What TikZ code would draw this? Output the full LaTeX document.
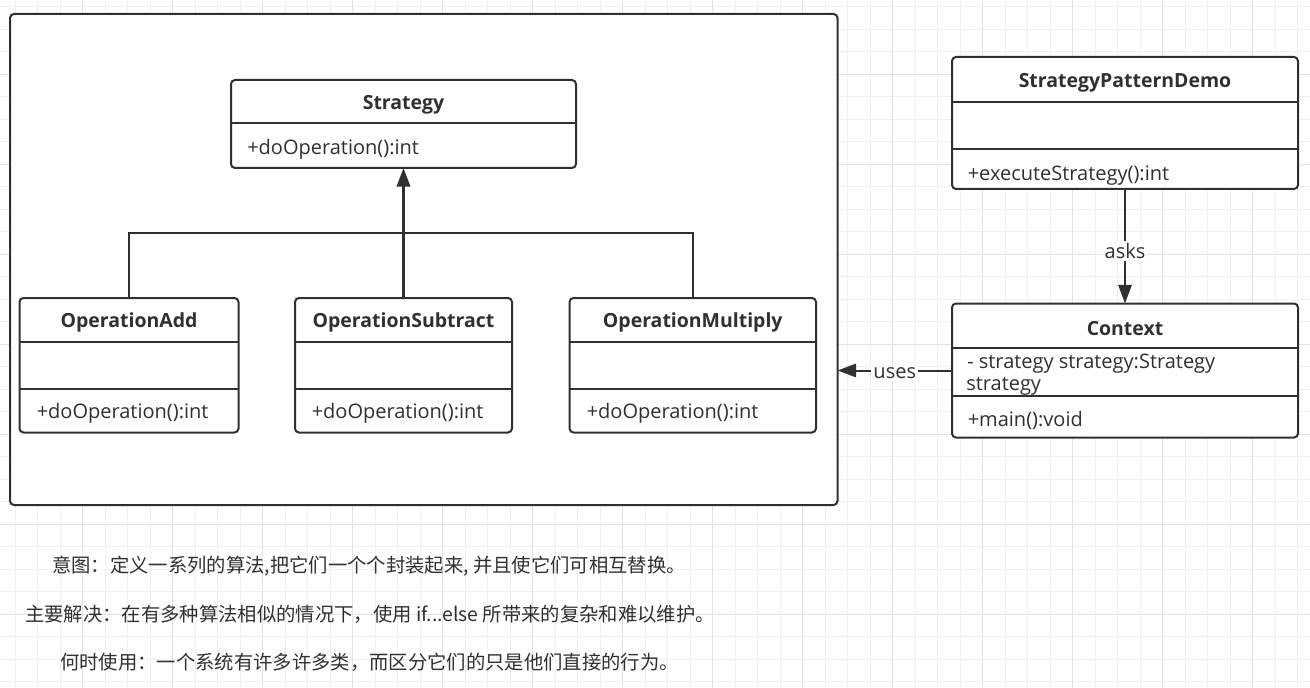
\documentclass[tikz,border=0pt]{standalone}
\usepackage{fontspec}
\setmainfont{Open Sans}
\newfontfamily\cjk{Noto Sans CJK SC}
\usetikzlibrary{arrows.meta}
\definecolor{ink}{HTML}{303030}
\definecolor{gridminor}{HTML}{F0F0F0}
\definecolor{gridmajor}{HTML}{E3E3E3}
\begin{document}
\begin{tikzpicture}[x=0.75pt,y=-0.75pt,
  box/.style 2 args={draw=ink, line width=1.5pt, rounded corners=3pt, fill=white,
    inner sep=0pt, outer sep=0pt, anchor=north west,
    minimum width=#1*0.75pt, minimum height=#2*0.75pt},
  divider/.style={draw=ink, line width=1.5pt},
  title/.style={font=\fontsize{14.6}{17}\selectfont\bfseries, text=ink, inner sep=0pt, yshift=-2pt},
  member/.style={font=\fontsize{15}{17}\selectfont, text=ink, inner sep=0pt, anchor=west, yshift=-1.8pt},
  conn/.style={draw=ink, line width=1.5pt},
  tip/.style={-{Triangle[length=14pt,width=10pt]}},
  elabel/.style={font=\fontsize{15}{17}\selectfont, text=ink, fill=white, inner sep=1.5pt},
  note/.style={font=\cjk\fontsize{14.5}{17}\selectfont, text=ink, inner sep=0pt},
  gmin/.style={draw=gridminor, line width=0.75pt},
  gmaj/.style={draw=gridmajor, line width=0.75pt}]

% background grid
\fill[white] (0,0) rectangle (1310,688);
\useasboundingbox (0,0) rectangle (1310,688);
\foreach \i in {0,...,57}{\draw[gmin] ({15.2+22.5*\i},0) -- ({15.2+22.5*\i},688);}
\foreach \i in {0,...,30}{\draw[gmin] (0,{6.8+22.5*\i}) -- (1310,{6.8+22.5*\i});}
\foreach \i in {0,...,13}{\draw[gmaj] ({82.7+90*\i},0) -- ({82.7+90*\i},688);}
\foreach \i in {0,...,6}{\draw[gmaj] (0,{74.3+90*\i}) -- (1310,{74.3+90*\i});}

% package frame
\node[box={827.5}{491}] (pkg) at (10,14) {};

% Strategy
\node[box={345}{88}] (strat) at (231,80) {};
\draw[divider] (strat.west |- 0,123.5) -- (strat.east |- 0,123.5);
\node[title] (strat-t) at (403.5,102) {Strategy};
\node[member] (strat-m) at (247,147) {+doOperation():int};

% OperationAdd
\node[box={219}{134.5}] (add) at (19.5,298) {};
\draw[divider] (add.west |- 0,342) -- (add.east |- 0,342);
\draw[divider] (add.west |- 0,388.5) -- (add.east |- 0,388.5);
\node[title] (add-t) at (129,320) {OperationAdd};
\node[member] (add-m) at (36.5,411) {+doOperation():int};

% OperationSubtract
\node[box={217}{134.5}] (sub) at (295,298) {};
\draw[divider] (sub.west |- 0,342) -- (sub.east |- 0,342);
\draw[divider] (sub.west |- 0,388.5) -- (sub.east |- 0,388.5);
\node[title] (sub-t) at (403.5,320) {OperationSubtract};
\node[member] (sub-m) at (311.5,411) {+doOperation():int};

% OperationMultiply
\node[box={246.5}{134.5}] (mul) at (569.5,298) {};
\draw[divider] (mul.west |- 0,342) -- (mul.east |- 0,342);
\draw[divider] (mul.west |- 0,388.5) -- (mul.east |- 0,388.5);
\node[title] (mul-t) at (692.75,320) {OperationMultiply};
\node[member] (mul-m) at (586.5,411) {+doOperation():int};

% generalization
\coordinate (j) at (403.5,233.3);
\draw[conn] (add.north) |- (j);
\draw[conn] (mul.north) |- (j);
\draw[conn, tip, line width=2pt] (sub.north) -- (strat.south);

% StrategyPatternDemo
\node[box={346}{132}] (spd) at (952,57) {};
\draw[divider] (spd.west |- 0,102) -- (spd.east |- 0,102);
\draw[divider] (spd.west |- 0,149) -- (spd.east |- 0,149);
\node[title] (spd-t) at (1125,80) {StrategyPatternDemo};
\node[member] (spd-m) at (967.5,173) {+executeStrategy():int};

% Context
\node[box={346}{134}] (ctx) at (952,303.5) {};
\draw[divider] (ctx.west |- 0,348) -- (ctx.east |- 0,348);
\draw[divider] (ctx.west |- 0,396) -- (ctx.east |- 0,396);
\node[title] (ctx-t) at (1125,326) {Context};
\node[member] (ctx-a1) at (967,361.5) {- strategy strategy:Strategy};
\node[member] (ctx-a2) at (966,383.5) {strategy};
\node[member] (ctx-m) at (967.5,418) {+main():void};

% associations
\draw[conn, tip] (spd.south) -- node[elabel, pos=0.53, yshift=-1pt] (asks) {asks} (ctx.north);
\draw[conn, tip] (ctx.west) -- node[elabel, pos=0.5, yshift=-2.2pt] (uses) {uses} (ctx.west -| pkg.east);

% notes
\node[note] (n1) at (369,566) {意图：定义一系列的算法,把它们一个个封装起来, 并且使它们可相互替换。};
\node[note] (n2) at (370,614) {主要解决：在有多种算法相似的情况下，使用 if...else 所带来的复杂和难以维护。};
\node[note] (n3) at (369.5,662) {何时使用：一个系统有许多许多类，而区分它们的只是他们直接的行为。};
\end{tikzpicture}
\end{document}
